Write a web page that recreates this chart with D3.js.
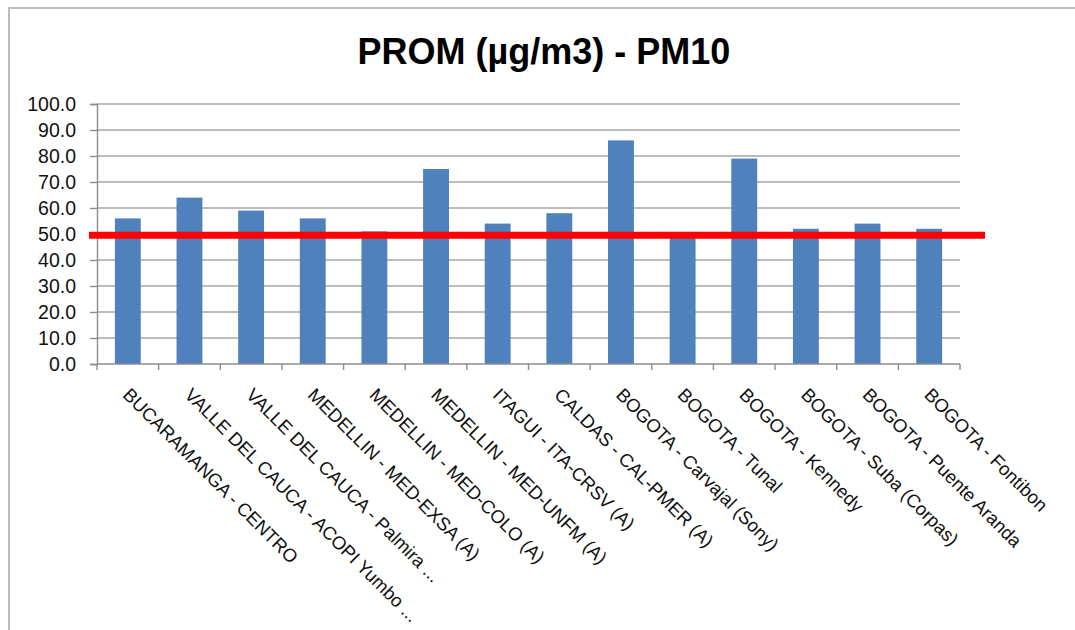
<!DOCTYPE html>
<html>
<head>
<meta charset="utf-8">
<script src="https://cdn.jsdelivr.net/npm/d3@7"></script>
<style>
  html, body { margin: 0; padding: 0; background: #fff; }
  svg { display: block; }
</style>
</head>
<body>
<svg id="chart" width="1075" height="630"></svg>
<script>
// Monitoring stations and their average PM10 concentration (µg/m3)
const stations = [
  "BUCARAMANGA - CENTRO",
  "VALLE DEL CAUCA - ACOPI Yumbo ...",
  "VALLE DEL CAUCA - Palmira ...",
  "MEDELLIN - MED-EXSA (A)",
  "MEDELLIN - MED-COLO (A)",
  "MEDELLIN - MED-UNFM  (A)",
  "ITAGUI - ITA-CRSV (A)",
  "CALDAS - CAL-PMER (A)",
  "BOGOTA - Carvajal (Sony)",
  "BOGOTA - Tunal",
  "BOGOTA - Kennedy",
  "BOGOTA - Suba (Corpas)",
  "BOGOTA - Puente Aranda",
  "BOGOTA - Fontibon"
];
const pm10 = [56, 64, 59, 56, 51, 75, 54, 58, 86, 49, 79, 52, 54, 52];
const yTicks = [0, 10, 20, 30, 40, 50, 60, 70, 80, 90, 100];
const limit = 49.5;
const title = "PROM (µg/m3) - PM10";

const svg = d3.select("#chart");
const font = "'Liberation Sans', Arial, sans-serif";

// outer frame (top and left edges)
svg.append("path")
  .attr("d", "M9,630 L9,8 L1075,8")
  .attr("fill", "none")
  .attr("stroke", "#bdbdbd")
  .attr("stroke-width", 2);

const plotLeft = 97, plotRight = 960, plotTop = 104, plotBottom = 364;

const x = d3.scaleBand().domain(stations).range([plotLeft, plotRight]).paddingInner(0.58).paddingOuter(0.29);
const xTicksScale = d3.scaleBand().domain(stations).range([plotLeft, plotRight]);
const y = d3.scaleLinear().domain([0, 100]).range([plotBottom, plotTop]);

// title
svg.append("text")
  .attr("x", 544).attr("y", 64)
  .attr("text-anchor", "middle")
  .attr("font-family", font)
  .attr("font-weight", "bold")
  .attr("font-size", 36)
  .attr("fill", "#000")
  .text(title);

// horizontal gridlines
svg.append("g")
  .selectAll("line")
  .data(yTicks.filter(d => d > 0))
  .join("line")
  .attr("x1", plotLeft).attr("x2", plotRight)
  .attr("y1", d => y(d)).attr("y2", d => y(d))
  .attr("stroke", "#a6a6a6")
  .attr("stroke-width", 1.6);

// y axis
const yAxis = svg.append("g")
  .attr("transform", `translate(${plotLeft},0)`)
  .call(d3.axisLeft(y).tickValues(yTicks).tickFormat(d3.format(".1f")).tickSize(7).tickPadding(14));
yAxis.select(".domain").attr("stroke", "#8c8c8c").attr("stroke-width", 1.4);
yAxis.selectAll(".tick line").attr("stroke", "#8c8c8c").attr("stroke-width", 1.4);
yAxis.selectAll("text")
  .attr("font-family", font)
  .attr("font-size", 19.5)
  .attr("fill", "#111");

// bars
svg.append("g")
  .selectAll("rect")
  .data(pm10)
  .join("rect")
  .attr("x", (d, i) => x(stations[i]))
  .attr("width", x.bandwidth())
  .attr("y", d => y(d))
  .attr("height", d => y(0) - y(d))
  .attr("fill", "#4f81bd");

// x axis with ticks at category boundaries
const xAxis = svg.append("g").attr("transform", `translate(0,${plotBottom})`);
xAxis.append("line")
  .attr("x1", plotLeft).attr("x2", plotRight)
  .attr("stroke", "#8c8c8c").attr("stroke-width", 1.4);
xAxis.selectAll("line.tk")
  .data(stations.map(s => xTicksScale(s)).concat([plotRight]))
  .join("line")
  .attr("class", "tk")
  .attr("x1", d => d).attr("x2", d => d)
  .attr("y1", 0).attr("y2", 6)
  .attr("stroke", "#8c8c8c").attr("stroke-width", 1.4);

// rotated category labels
svg.append("g")
  .selectAll("text")
  .data(stations)
  .join("text")
  .attr("transform", d => `translate(${x(d) + x.bandwidth() / 2 - 6},${plotBottom + 32}) rotate(45)`)
  .attr("text-anchor", "start")
  .attr("font-family", font)
  .attr("font-size", 18.5)
  .attr("fill", "#111")
  .text(d => d);

// reference limit line
svg.append("line")
  .attr("x1", 89).attr("x2", 985)
  .attr("y1", y(limit)).attr("y2", y(limit))
  .attr("stroke", "#ff0000")
  .attr("stroke-width", 7);
</script>
</body>
</html>
